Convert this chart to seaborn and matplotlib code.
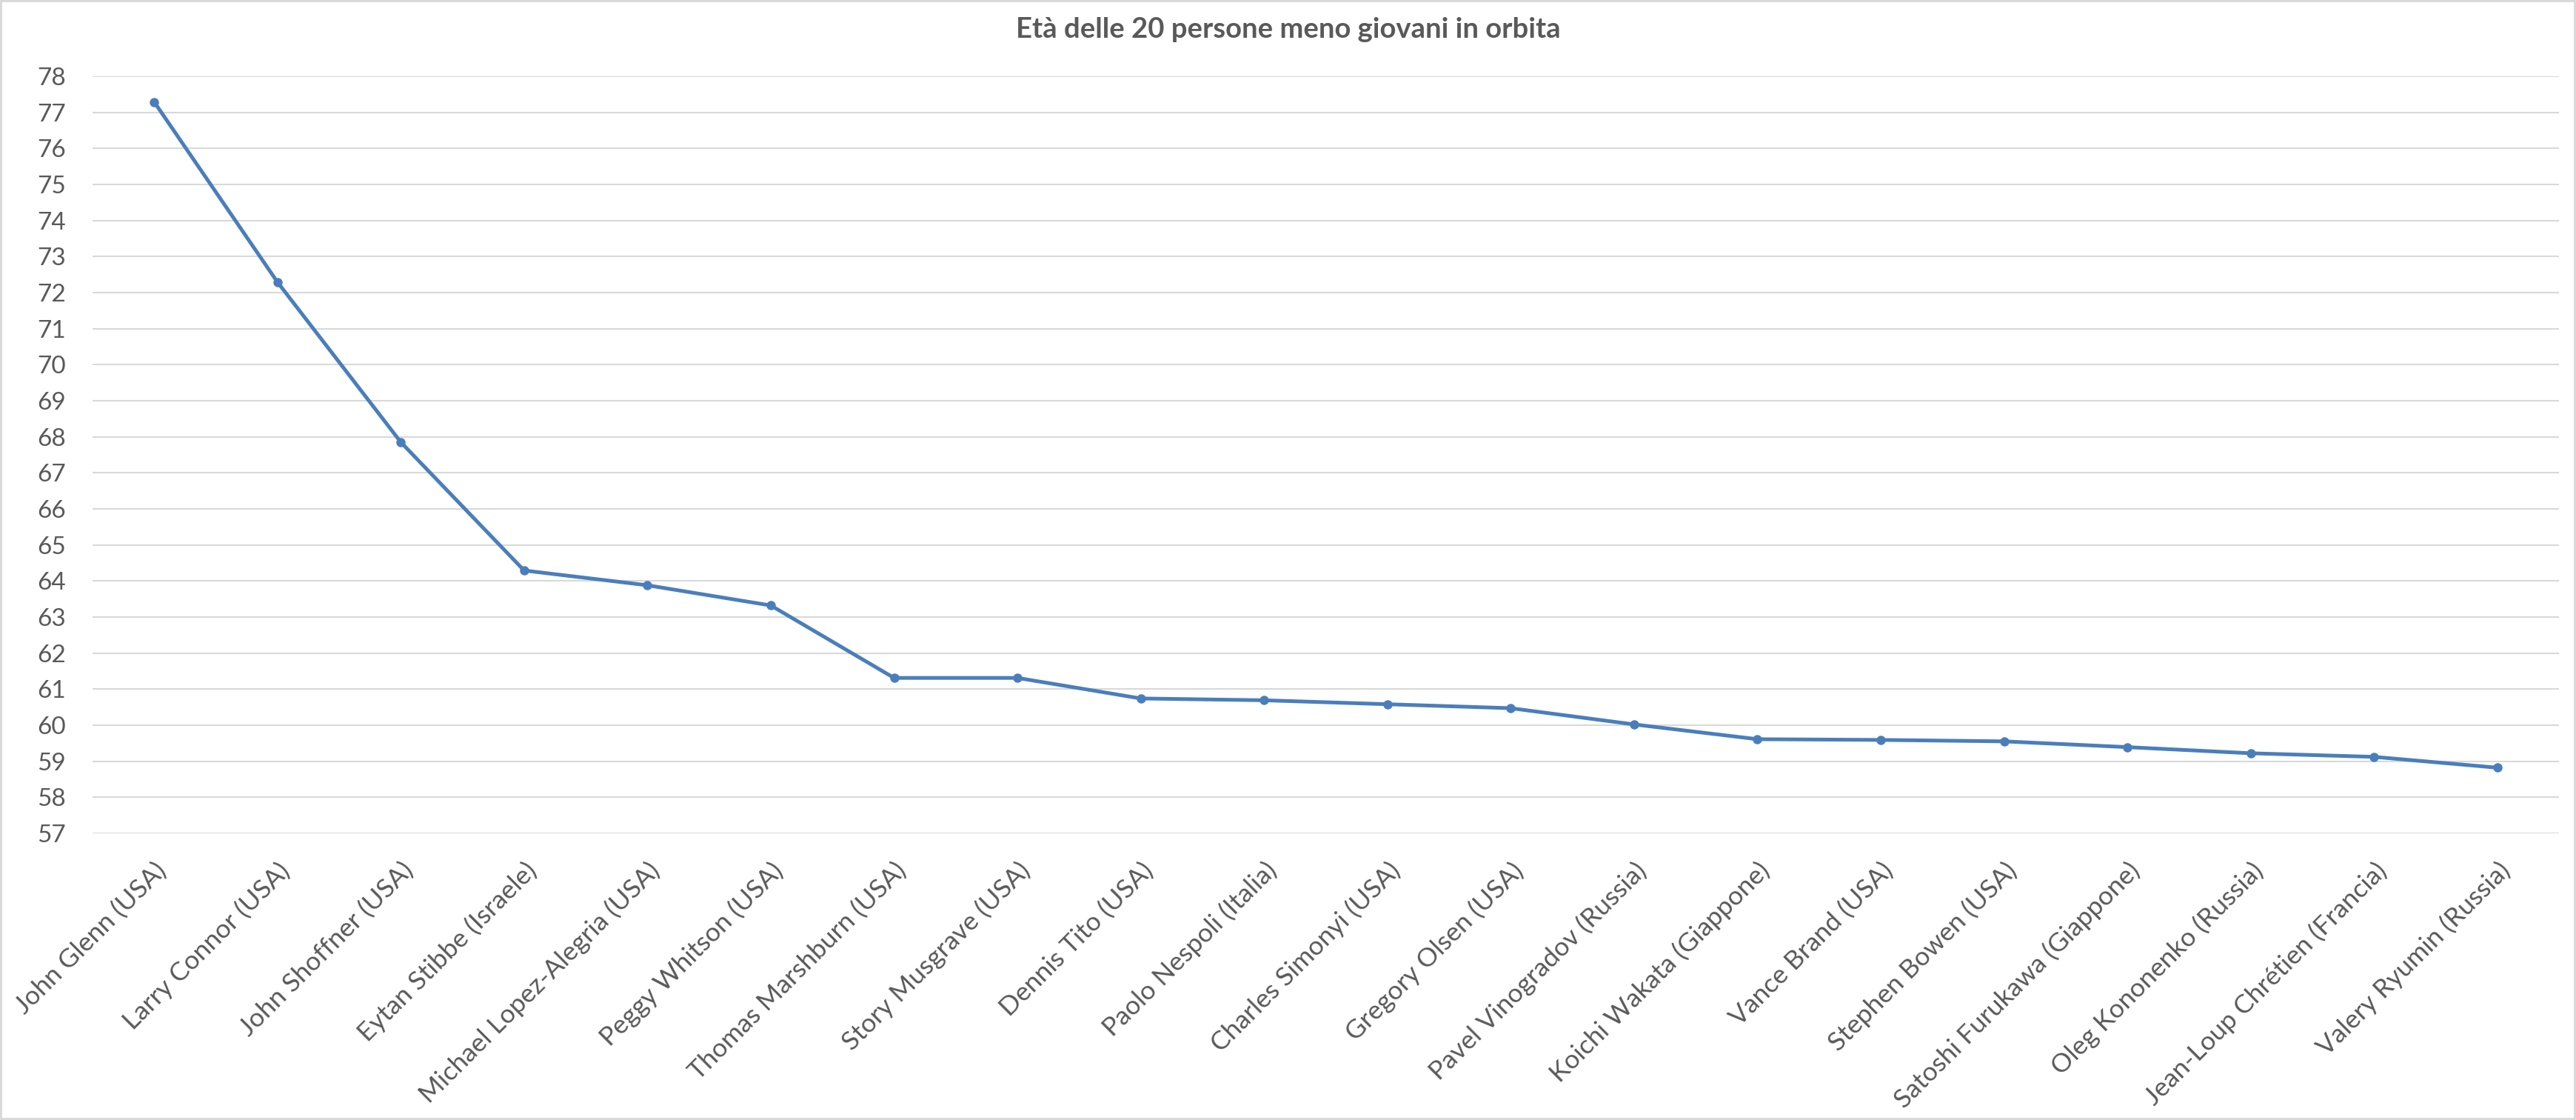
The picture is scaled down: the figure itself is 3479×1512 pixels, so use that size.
import pandas as pd
import seaborn as sns
from matplotlib import pyplot as plt

# persone e età (anni) al momento del volo
names = [
    "John Glenn (USA)", "Larry Connor (USA)", "John Shoffner (USA)",
    "Eytan Stibbe (Israele)", "Michael Lopez-Alegria (USA)", "Peggy Whitson (USA)",
    "Thomas Marshburn (USA)", "Story Musgrave (USA)", "Dennis Tito (USA)",
    "Paolo Nespoli (Italia)", "Charles Simonyi (USA)", "Gregory Olsen (USA)",
    "Pavel Vinogradov (Russia)", "Koichi Wakata (Giappone)", "Vance Brand (USA)",
    "Stephen Bowen (USA)", "Satoshi Furukawa (Giappone)", "Oleg Kononenko (Russia)",
    "Jean-Loup Chrétien (Francia)", "Valery Ryumin (Russia)",
]
ages = [77.29, 72.29, 67.85, 64.29, 63.88, 63.32, 61.31, 61.31, 60.74, 60.69,
        60.58, 60.47, 60.02, 59.61, 59.59, 59.55, 59.39, 59.22, 59.12, 58.82]
y_ticks = list(range(57, 79))
title = "Età delle 20 persone meno giovani in orbita"

df = pd.DataFrame({"nome": names, "eta": ages})
df["pos"] = range(len(df))

sns.set_theme(style="white")
plt.rcParams["font.family"] = ["Lato", "DejaVu Sans"]

grey = "#595959"
blue = "#4a7ebb"

fig = plt.figure(figsize=(34.79, 15.12), dpi=100)
fig.patch.set_edgecolor("#d9d9d9")
fig.patch.set_linewidth(3)
ax = fig.add_axes([0.0359, 0.2560, 0.9575, 0.6759])

sns.lineplot(data=df, x="pos", y="eta", ax=ax, sort=False, color=blue,
             linewidth=3.6, marker="o", markersize=9, markeredgewidth=0)

ax.set_xlim(-0.5, len(names) - 0.5)
ax.set_ylim(57, 78)
ax.set_yticks(y_ticks)
ax.set_yticklabels([str(t) for t in y_ticks])
ax.set_xticks(df["pos"])
ax.set_xticklabels(names, rotation=45, ha="right", va="top", rotation_mode="anchor")
ax.tick_params(axis="y", length=0, pad=26, labelsize=24, labelcolor=grey)
ax.tick_params(axis="x", length=0, pad=24, labelsize=25.5, labelcolor=grey)
ax.grid(axis="y", color="#d9d9d9", linewidth=1.5)
ax.set_axisbelow(True)
for s in ax.spines.values():
    s.set_visible(False)
ax.set_xlabel("")
ax.set_ylabel("")

fig.suptitle(title, y=0.9735, va="center", fontsize=27.5, fontweight="bold", color=grey)

fig.savefig("out.png", dpi=100)
